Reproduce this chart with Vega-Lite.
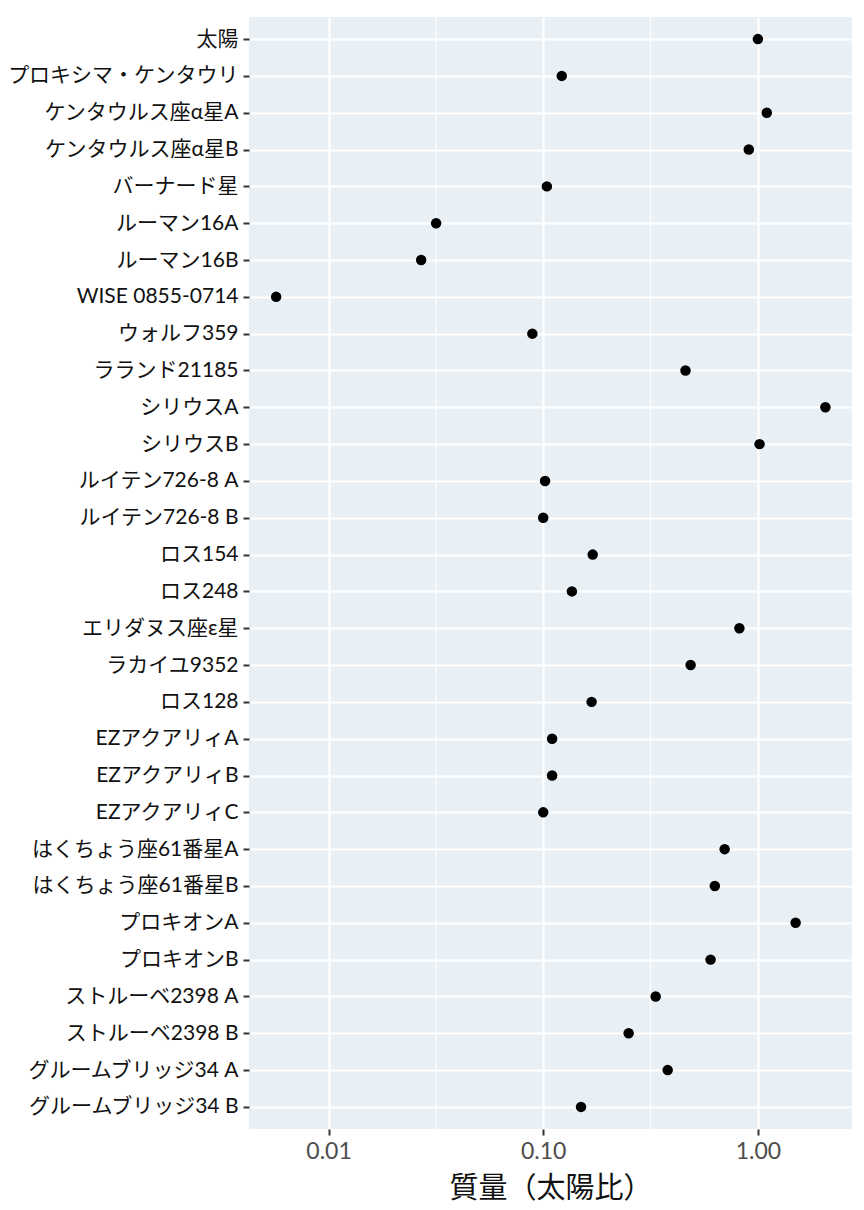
{
  "$schema": "https://vega.github.io/schema/vega-lite/v6.json",
  "width": 603,
  "height": 1112,
  "autosize": "none",
  "padding": {"left": 249, "top": 17, "right": 12, "bottom": 81},
  "background": "white",
  "view": {"fill": "#E8F0F6", "stroke": null},
  "datasets": {
    "stars": [
      {"name": "太陽", "mass": 1.0},
      {"name": "プロキシマ・ケンタウリ", "mass": 0.122},
      {"name": "ケンタウルス座α星A", "mass": 1.1},
      {"name": "ケンタウルス座α星B", "mass": 0.907},
      {"name": "バーナード星", "mass": 0.104},
      {"name": "ルーマン16A", "mass": 0.0317},
      {"name": "ルーマン16B", "mass": 0.027},
      {"name": "WISE 0855-0714", "mass": 0.0057},
      {"name": "ウォルフ359", "mass": 0.089},
      {"name": "ラランド21185", "mass": 0.46},
      {"name": "シリウスA", "mass": 2.063},
      {"name": "シリウスB", "mass": 1.018},
      {"name": "ルイテン726-8 A", "mass": 0.102},
      {"name": "ルイテン726-8 B", "mass": 0.1},
      {"name": "ロス154", "mass": 0.17},
      {"name": "ロス248", "mass": 0.136},
      {"name": "エリダヌス座ε星", "mass": 0.82},
      {"name": "ラカイユ9352", "mass": 0.486},
      {"name": "ロス128", "mass": 0.168},
      {"name": "EZアクアリィA", "mass": 0.11},
      {"name": "EZアクアリィB", "mass": 0.11},
      {"name": "EZアクアリィC", "mass": 0.1},
      {"name": "はくちょう座61番星A", "mass": 0.7},
      {"name": "はくちょう座61番星B", "mass": 0.63},
      {"name": "プロキオンA", "mass": 1.499},
      {"name": "プロキオンB", "mass": 0.602},
      {"name": "ストルーベ2398 A", "mass": 0.334},
      {"name": "ストルーベ2398 B", "mass": 0.25},
      {"name": "グルームブリッジ34 A", "mass": 0.38},
      {"name": "グルームブリッジ34 B", "mass": 0.15}
    ],
    "minor": [
      {"mass": 0.0316},
      {"mass": 0.316}
    ]
  },
  "layer": [
    {
      "data": {"name": "minor"},
      "mark": {"type": "rule", "color": "white", "strokeWidth": 1.1},
      "encoding": {
        "x": {"field": "mass", "type": "quantitative", "scale": {"type": "log", "domain": [0.00426, 2.744], "nice": false, "zero": false}}
      }
    },
    {
      "data": {"name": "stars"},
      "mark": {"type": "point", "filled": true, "color": "black", "opacity": 1, "size": 110},
      "encoding": {
        "y": {
          "field": "name",
          "type": "nominal",
          "sort": null,
          "scale": {"type": "point", "padding": 0.6},
          "axis": {
            "title": null,
            "domain": false,
            "grid": true,
            "gridColor": "white",
            "gridWidth": 2,
            "ticks": true,
            "tickColor": "#333333",
            "tickSize": 6,
            "tickWidth": 2,
            "labelFont": "Lato, Noto Sans CJK JP",
            "labelFontSize": 21,
            "labelColor": "#111111",
            "labelPadding": 5,
            "labelLimit": 300
          }
        },
        "x": {
          "field": "mass",
          "type": "quantitative",
          "scale": {"type": "log", "domain": [0.00426, 2.744], "nice": false, "zero": false},
          "axis": {
            "title": "質量（太陽比）",
            "values": [0.01, 0.1, 1],
            "format": ".2f",
            "domain": false,
            "grid": true,
            "gridColor": "white",
            "gridWidth": 2,
            "tickColor": "#333333",
            "tickSize": 6,
            "tickWidth": 2,
            "labelFont": "Lato, Noto Sans CJK JP",
            "labelFontSize": 23,
            "labelColor": "#4D4D4D",
            "labelPadding": 5,
            "titleFont": "Noto Sans CJK JP",
            "titleFontSize": 29,
            "titleFontWeight": "normal",
            "titleColor": "#111111",
            "titlePadding": 11
          }
        }
      }
    }
  ]
}
